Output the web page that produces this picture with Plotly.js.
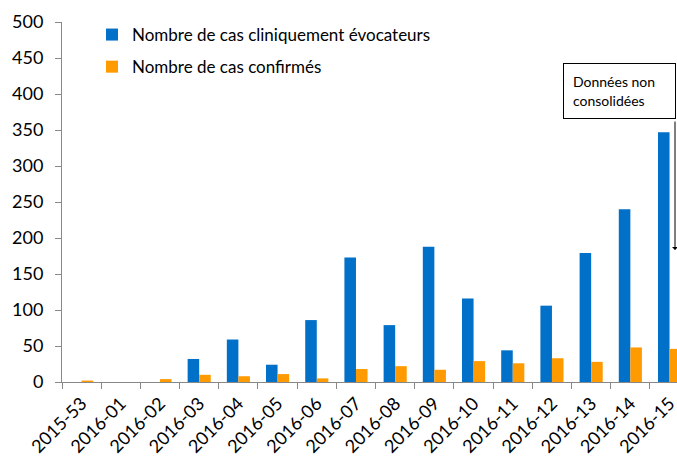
<!DOCTYPE html>
<html>
<head>
<meta charset="utf-8">
<script src="https://cdn.plot.ly/plotly-3.0.1.min.js"></script>
<style>html,body{margin:0;padding:0;background:#fff;}#chart{width:677px;height:457px;}</style>
</head>
<body>
<div id="chart"></div>
<script>
var weeks = ["2015-53","2016-01","2016-02","2016-03","2016-04","2016-05","2016-06","2016-07","2016-08","2016-09","2016-10","2016-11","2016-12","2016-13","2016-14","2016-15"];
var casCliniques = [0, 0, 0, 32, 59, 24, 86, 173, 79, 188, 116, 44, 106, 179, 240, 347];
var casConfirmes = [2, 0, 4, 10, 8, 11, 5, 18, 22, 17, 29, 26, 33, 28, 48, 46];
var seriesNames = ["Nombre de cas cliniquement évocateurs", "Nombre de cas confirmés"];
var noteText = "Données non<br>consolidées";

var FONT = "Lato, 'Open Sans', sans-serif";
var traces = [
  {type: "bar", x: weeks, y: casCliniques, name: seriesNames[0], legendgroup: "a",
   marker: {color: "#0070C8"}},
  {type: "bar", x: weeks, y: casConfirmes, name: seriesNames[1], legendgroup: "b",
   marker: {color: "#FF9A00"}}
];
var W = 615, H = 360, L = 62, T = 22;
function px(x){ return (x - L) / W; }
function py(y){ return (T + H - y) / H; }
var layout = {
  width: 677, height: 457,
  margin: {l: L, r: 0, t: T, b: 457 - T - H},
  paper_bgcolor: "#fff", plot_bgcolor: "#fff",
  font: {family: FONT, color: "#000"},
  barmode: "group", bargap: 0.41, bargroupgap: 0,
  showlegend: true,
  legend: {x: px(92), y: py(17), xanchor: "left", yanchor: "top",
           font: {size: 17, family: FONT}, bgcolor: "rgba(0,0,0,0)",
           tracegroupgap: 7, traceorder: "grouped"},
  xaxis: {type: "category", range: [-0.5, 15.19], tickangle: -45,
          tickson: "boundaries", ticks: "outside", ticklen: 6, tickcolor: "#888",
          ticklabelstandoff: 3,
          showline: true, linecolor: "#888", linewidth: 1,
          showgrid: false, zeroline: false, fixedrange: true,
          tickfont: {size: 18, family: FONT}},
  yaxis: {range: [0, 500], dtick: 50, ticks: "outside", ticklen: 6, tickcolor: "#888",
          ticklabelstandoff: 8,
          showline: true, linecolor: "#888", linewidth: 1,
          showgrid: false, zeroline: false, fixedrange: true,
          tickfont: {size: 18, family: FONT}},
  annotations: [
    {xref: "paper", yref: "paper", x: px(676), y: py(63), xanchor: "right", yanchor: "top",
     text: noteText, showarrow: false, align: "left", width: 93, height: 36,
     borderpad: 9, bordercolor: "#000", borderwidth: 1, bgcolor: "#fff",
     font: {size: 14, family: FONT, color: "#000"}},
    {xref: "paper", yref: "paper", x: px(675), y: py(250), text: "",
     showarrow: true, ax: 0, ay: -130, axref: "pixel", ayref: "pixel",
     arrowhead: 1, arrowsize: 1, arrowwidth: 1, arrowcolor: "#000"}
  ]
};
Plotly.newPlot("chart", traces, layout, {displayModeBar: false, staticPlot: true});
</script>
</body>
</html>
